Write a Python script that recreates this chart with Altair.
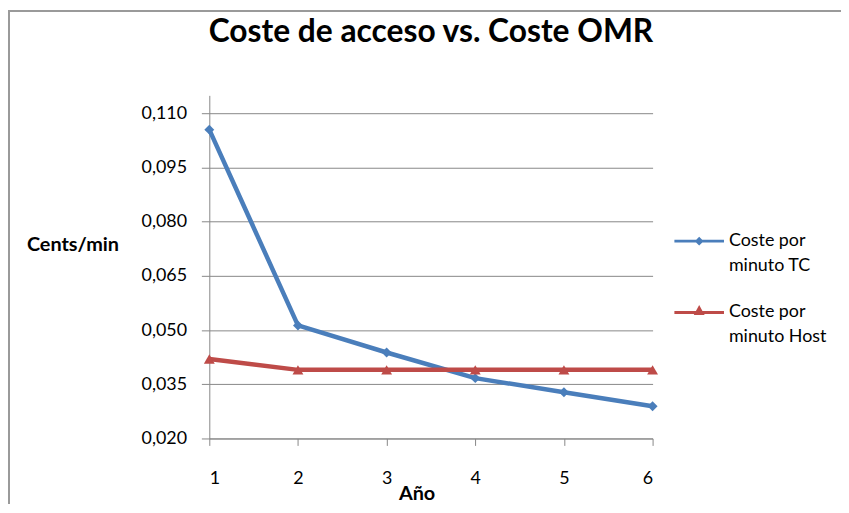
import altair as alt
import pandas as pd

# ---- data ----
years = [1, 2, 3, 4, 5, 6]
coste_tc = [0.1055, 0.0513, 0.0438, 0.0367, 0.0328, 0.0289]
coste_host = [0.042, 0.039, 0.039, 0.039, 0.039, 0.039]
series_names = ["Coste por minuto TC", "Coste por minuto Host"]
series_colors = ["#4A7EBB", "#BE4B48"]
y_tick_values = [0.020, 0.035, 0.050, 0.065, 0.080, 0.095, 0.110]
y_domain = [0.020, 0.115]
x_domain = [1, 6]
title_text = "Coste de acceso vs. Coste OMR"
x_title = "Año"
y_title = "Cents/min"

FONT = "Lato"
GRID = "#878787"

df = pd.DataFrame({
    "anio": years * 2,
    "valor": coste_tc + coste_host,
    "serie": [series_names[0]] * len(years) + [series_names[1]] * len(years),
})

x_enc = alt.X(
    "anio:Q",
    scale=alt.Scale(domain=x_domain, nice=False, zero=False),
    axis=alt.Axis(
        values=years, format="d", title=x_title, grid=False,
        tickSize=7, tickColor=GRID, domainColor=GRID,
        labelFont=FONT, labelFontSize=18, labelColor="#000000",
        labelBaseline="alphabetic", labelPadding=38,
        titleFont=FONT, titleFontSize=20, titleFontWeight="bold", titleColor="#000000",
        titleX=209, titleY=62, titleAlign="center", titleBaseline="alphabetic",
    ),
)
y_enc = alt.Y(
    "valor:Q",
    scale=alt.Scale(domain=y_domain, nice=False, zero=False),
    axis=alt.Axis(
        values=y_tick_values,
        labelExpr="replace(format(datum.value, '.3f'), '.', ',')",
        title=y_title, grid=True, gridColor=GRID, gridWidth=1,
        tickSize=8, tickColor=GRID, domainColor=GRID,
        labelFont=FONT, labelFontSize=18, labelColor="#000000", labelPadding=15,
        titleFont=FONT, titleFontSize=20, titleFontWeight="bold", titleColor="#000000",
        titleAngle=0, titleX=-138, titleY=156, titleAlign="center",
        titleBaseline="alphabetic",
    ),
)

base = alt.Chart(df).encode(x=x_enc, y=y_enc)

layers = []
shapes = ["diamond", "triangle-up"]
sizes = [100, 120]
for name, col, shp, sz in zip(series_names, series_colors, shapes, sizes):
    sub = base.transform_filter(alt.datum.serie == name)
    layers.append(sub.mark_line(color=col, strokeWidth=4.5, strokeJoin="round"))
    layers.append(sub.mark_point(shape=shp, filled=True, opacity=1, size=sz, color=col))

legend_paths = [
    "M-1,-0.06L1,-0.06L1,0.06L-1,0.06Z M0,-0.18L0.18,0L0,0.18L-0.18,0Z",
    "M-1,-0.06L1,-0.06L1,0.06L-1,0.06Z M0,-0.3L0.22,0.1L-0.22,0.1Z",
]
leg = alt.Legend(
    title=None, orient="none", legendX=469, legendY=122, padding=0,
    labelFont=FONT, labelFontSize=18, labelColor="#000000", labelOffset=5,
    labelLimit=400, rowPadding=13, symbolStrokeWidth=0, symbolSize=2500,
    labelExpr="[slice(datum.label, 0, 9), slice(datum.label, 10)]",
)
legend_layer = base.transform_filter("false").mark_point(
    filled=True, opacity=1, size=2500
).encode(
    color=alt.Color("serie:N", scale=alt.Scale(domain=series_names, range=series_colors), legend=leg),
    shape=alt.Shape("serie:N", scale=alt.Scale(domain=series_names, range=legend_paths), legend=leg),
)

frame = alt.Chart(df).mark_rect(
    fill=None, stroke="#9a9a9a", strokeWidth=2
).encode(
    x=alt.value(-202), x2=alt.value(700), y=alt.value(-85), y2=alt.value(500)
)

chart = alt.layer(frame, *layers, legend_layer).properties(
    width=447,
    height=346,
    padding={"left": 203, "top": 86, "right": 190, "bottom": 64},
    autosize=alt.AutoSizeParams(type="none"),
    title=alt.TitleParams(
        title_text, font=FONT, fontSize=32, fontWeight="bold", color="#000000",
        anchor="middle", frame="group", offset=0, dy=64, baseline="alphabetic",
    ),
).configure(
    font=FONT,
    view=alt.ViewConfig(stroke=None),
    style={"guide-label": {"lineHeight": 25}},
)

chart.save("out.html", embed_options={"renderer": "svg", "actions": False})
